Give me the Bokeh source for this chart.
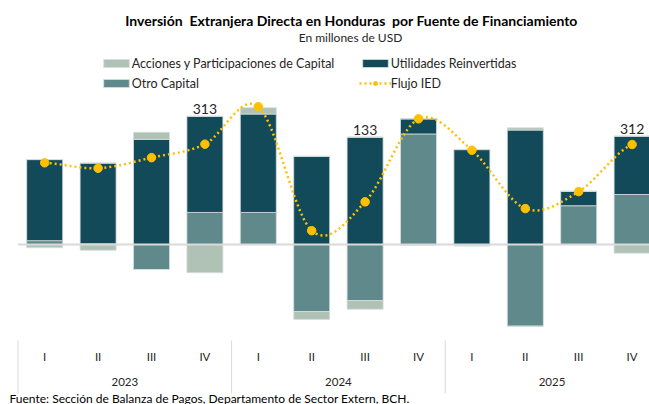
import numpy as np
from bokeh.plotting import figure
from bokeh.models import Range1d, Legend, LegendItem, Label, ColumnDataSource
from bokeh.core.properties import value
from bokeh.embed import file_html
from bokeh.resources import INLINE

# ---------------- data ----------------
trimestres = ["I", "II", "III", "IV", "I", "II", "III", "IV", "I", "II", "III", "IV"]
anios = ["2023", "2024", "2025"]
acciones = [-10, -18, 22, -88, 20, -25, -27, -2, 1, 7, 0, -27]
utilidades = [253, 252, 328, 300, 307, 275, 335, 47, 296, 357, 45, 182]
otro_capital = [12, 2, -78, 100, 100, -209, -175, 345, -4, -255, 121, 156]
flujo_ied = [255, 238, 271, 313, 430, 43, 133, 392, 294, 112, 165, 312]
etiquetados = [3, 6, 11]  # quarters whose Flujo IED value is labelled

DARK = "#124A59"
MED = "#5F898A"
LIGHT = "#B0C2B6"
GOLD = "#FFC000"
TXT = "#262626"
FONT = "Lato"

# ---------------- geometry ----------------
W, H = 649, 404
PAGE_X_START = 17.5   # x of left edge of first category
CAT_W = 53.4          # px per category
ZERO_Y = 244          # y of zero line
UPP = 3.12            # data units per pixel

x_lo = -0.5 - PAGE_X_START / CAT_W
x_hi = x_lo + W / CAT_W
y_hi = ZERO_Y * UPP
y_lo = y_hi - H * UPP


def xd(px):
    return -0.5 + (px - PAGE_X_START) / CAT_W


def yd(py):
    return (ZERO_Y - py) * UPP


p = figure(width=W, height=H, x_range=Range1d(x_lo, x_hi), y_range=Range1d(y_lo, y_hi),
           output_backend="svg", toolbar_location=None, min_border=0,
           x_axis_location=None, y_axis_location=None)
p.grid.visible = False
p.outline_line_color = None
p.background_fill_color = "white"

n = len(trimestres)
xs = list(range(n))
src = ColumnDataSource(dict(
    x=xs,
    oc_p=[max(v, 0) for v in otro_capital],
    ur_p=[max(v, 0) for v in utilidades],
    ac_p=[max(v, 0) for v in acciones],
    oc_n=[min(v, 0) for v in otro_capital],
    ac_n=[min(v, 0) for v in acciones],
))

BW = 36 / CAT_W
pos = p.vbar_stack(["oc_p", "ur_p", "ac_p"], x="x", width=BW, source=src,
                   fill_color=[MED, DARK, LIGHT], line_color="#D5DEDE", line_width=0.8)
neg = p.vbar_stack(["oc_n", "ac_n"], x="x", width=BW, source=src,
                   fill_color=[MED, LIGHT], line_color="#D5DEDE", line_width=0.8)

# zero line
p.segment(x0=[-0.5], y0=[0], x1=[x_hi], y1=[0], line_color="#D9D9D9", line_width=2)

# smoothed Flujo IED curve (Catmull-Rom through the data points)
ys = np.array(flujo_ied, dtype=float)
ext = np.concatenate([[ys[0]], ys, [ys[-1]]])
cx, cy = [], []
for i in range(n - 1):
    p0, p1, p2, p3 = ext[i], ext[i + 1], ext[i + 2], ext[i + 3]
    t = np.linspace(0, 1, 25, endpoint=(i == n - 2))
    yy = 0.5 * ((2 * p1) + (-p0 + p2) * t + (2 * p0 - 5 * p1 + 4 * p2 - p3) * t ** 2
                + (-p0 + 3 * p1 - 3 * p2 + p3) * t ** 3)
    cx.extend(list(i + t))
    cy.extend(list(yy))
fl_line = p.line(cx, cy, line_color=GOLD, line_width=2.5, line_dash="2 3")
fl_pts = p.scatter(xs, flujo_ied, size=8.5, fill_color=GOLD, line_color=GOLD)

# value labels
tops = [src.data["oc_p"][i] + src.data["ur_p"][i] + src.data["ac_p"][i] for i in etiquetados]
p.text(x=etiquetados, y=tops, text=[str(flujo_ied[i]) for i in etiquetados],
       text_align="center", text_baseline="bottom", y_offset=-2,
       text_font=value(FONT), text_font_size="14px", text_color=TXT)

# category axis (quarters / years / separators)
p.text(x=xs, y=[yd(356)] * n, text=trimestres, text_align="center", text_baseline="middle",
       text_font=value(FONT), text_font_size="11.5px", text_color=TXT)
year_x = [float(np.mean(xs[4 * k:4 * k + 4])) for k in range(len(anios))]
p.text(x=year_x, y=[yd(381)] * len(anios), text=anios, text_align="center", text_baseline="middle",
       text_font=value(FONT), text_font_size="11.5px", text_color=TXT)
sep_x = [4 * k - 0.5 for k in range(len(anios))]
p.segment(x0=sep_x, y0=[yd(340)] * len(sep_x), x1=sep_x, y1=[yd(393)] * len(sep_x),
          line_color="#D9D9D9", line_width=1)

# titles and footnote
p.add_layout(Label(x=xd(351), y=yd(20),
                   text="Inversión\u00a0 Extranjera Directa en Honduras\u00a0 por Fuente de Financiamiento",
                   text_align="center", text_baseline="middle", text_font=FONT,
                   text_font_size="14px", text_font_style="bold", text_color="black"))
p.add_layout(Label(x=xd(350), y=yd(37), text="En millones de USD",
                   text_align="center", text_baseline="middle", text_font=FONT,
                   text_font_size="12px", text_color=TXT))
p.add_layout(Label(x=xd(9), y=yd(397.5),
                   text="Fuente: Sección de Balanza de Pagos, Departamento de Sector Extern, BCH.",
                   text_align="left", text_baseline="middle", text_font=FONT,
                   text_font_size="12px", text_color="black"))

legend = Legend(items=[
    LegendItem(label="Acciones y Participaciones de Capital", renderers=[pos[2]]),
    LegendItem(label="Utilidades Reinvertidas", renderers=[pos[1]]),
    LegendItem(label="Otro Capital", renderers=[pos[0]]),
    LegendItem(label="Flujo IED", renderers=[fl_line, fl_pts]),
], location=(99.7, 310.7), orientation="horizontal", ncols=2,
    glyph_width=32, glyph_height=10, label_standoff=0, label_width=227, spacing=0,
    padding=0, margin=0,
    label_height=20, label_text_font=FONT, label_text_font_size="12.5px", label_text_color=TXT,
    border_line_alpha=0, background_fill_alpha=0)
p.add_layout(legend)

open("out.html", "w").write(file_html(p, INLINE))
